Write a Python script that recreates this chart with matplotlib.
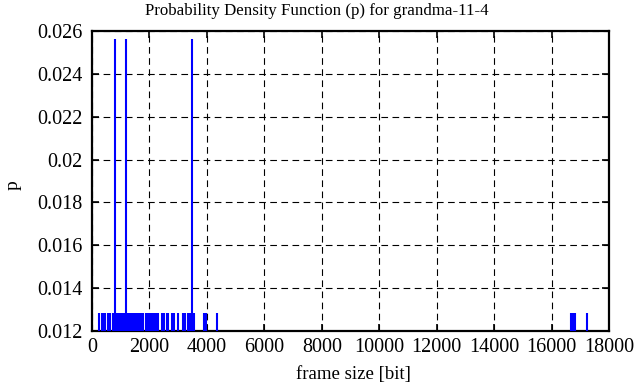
import matplotlib
matplotlib.use("Agg")
import matplotlib.pyplot as plt

# frame sizes [bit] with a single occurrence (p = 1/78)
single_sizes = [261, 331, 400, 470, 574, 627,
                731, 775, 845, 890, 935, 980, 1025, 1070, 1100, 1230, 1275,
                1320, 1365, 1410, 1455, 1500, 1545, 1590, 1635, 1680, 1730, 1776,
                1880, 1925, 1970, 2019, 2060, 2110, 2159,
                2228, 2270, 2298,
                2437, 2475, 2507,
                2611, 2650,
                2785, 2820, 2855,
                2994,
                3168, 3238,
                3342, 3412,
                3551,
                3900, 3945, 3970,
                4352,
                16660, 16700, 16747, 16790, 16816,
                17234]
# frame sizes [bit] with two occurrences (p = 2/78)
double_sizes = [801, 1184, 3482]
n_frames = 78
p_single = 1.0 / n_frames
p_double = 2.0 / n_frames

x_ticks = [0, 2000, 4000, 6000, 8000, 10000, 12000, 14000, 16000, 18000]
y_ticks = [0.012, 0.014, 0.016, 0.018, 0.02, 0.022, 0.024, 0.026]
y_tick_labels = ["0.012", "0.014", "0.016", "0.018", "0.02", "0.022", "0.024", "0.026"]

plt.rcParams['font.family'] = ['Liberation Serif', 'DejaVu Serif']

W, H = 636, 387
fig = plt.figure(figsize=(W / 100, H / 100), dpi=100)
left, right, bottom, top = 92, 609, 331, 31
ax = fig.add_axes([left / W, (H - bottom) / H, (right - left) / W, (bottom - top) / H])

ymin, ymax = 0.012, 0.026
ax.vlines(single_sizes, ymin, p_single, colors='#0000ff', linewidth=1.5, zorder=3)
ax.vlines(double_sizes, ymin, p_double, colors='#0000ff', linewidth=1.5, zorder=3)

ax.set_xlim(0, 18000)
ax.set_ylim(ymin, ymax)
ax.set_xticks(x_ticks)
ax.set_xticklabels([str(v) for v in x_ticks])
ax.set_yticks(y_ticks)
ax.set_yticklabels(y_tick_labels)

ax.grid(True, color='black', linestyle=(0, (6, 4)), linewidth=0.8)
ax.set_axisbelow(True)
ax.tick_params(direction='in', length=5, width=1.2, top=True, right=True,
               labelsize=14.5, colors='black')
ax.tick_params(axis='y', pad=7)
ax.tick_params(axis='x', pad=5)
for s in ax.spines.values():
    s.set_linewidth(1.6)

fig.text(353 / W, (H - 375) / H, "frame size [bit]", fontsize=13.5, ha='center', va='center')
fig.text(13 / W, (H - 185) / H, "p", fontsize=14, rotation=90, ha='center', va='center')
fig.text(317 / W, (H - 11) / H, "Probability Density Function (p) for grandma-11-4",
         fontsize=12.2, ha='center', va='center')

fig.savefig("out.png", dpi=100)
